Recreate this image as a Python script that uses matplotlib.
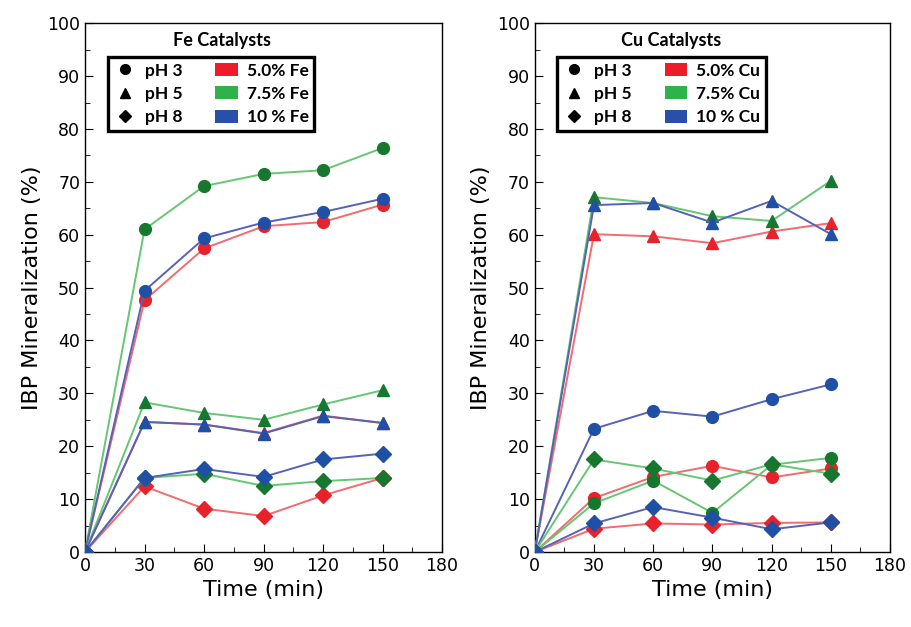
import matplotlib.pyplot as plt
from matplotlib.lines import Line2D
from matplotlib.patches import Patch
from matplotlib.ticker import MultipleLocator

# time points (min)
time = [0, 30, 60, 90, 120, 150]

# Fe catalysts
fe_ph3 = {
    "5.0": [0, 47.6, 57.4, 61.6, 62.4, 65.7],
    "7.5": [0, 61.0, 69.2, 71.5, 72.2, 76.4],
    "10": [0, 49.4, 59.3, 62.3, 64.3, 66.8],
}
fe_ph5 = {
    "5.0": [0, 24.6, 24.1, 22.5, 25.8, 24.4],
    "7.5": [0, 28.3, 26.3, 25.0, 27.9, 30.6],
    "10": [0, 24.6, 24.1, 22.4, 25.7, 24.4],
}
fe_ph8 = {
    "5.0": [0, 12.4, 8.2, 6.8, 10.7, 14.0],
    "7.5": [0, 14.0, 14.8, 12.5, 13.4, 14.0],
    "10": [0, 14.0, 15.7, 14.2, 17.5, 18.6],
}

# Cu catalysts
cu_ph3 = {
    "5.0": [0, 10.2, 14.2, 16.3, 14.1, 15.8],
    "7.5": [0, 9.2, 13.5, 7.4, 16.5, 17.8],
    "10": [0, 23.3, 26.7, 25.6, 28.9, 31.7],
}
cu_ph5 = {
    "5.0": [0, 60.1, 59.7, 58.4, 60.6, 62.2],
    "7.5": [0, 67.1, 66.0, 63.5, 62.6, 70.2],
    "10": [0, 65.6, 66.0, 62.3, 66.4, 60.1],
}
cu_ph8 = {
    "5.0": [0, 4.4, 5.4, 5.2, 5.5, 5.6],
    "7.5": [0, 17.5, 15.8, 13.5, 16.6, 14.8],
    "10": [0, 5.4, 8.5, 6.5, 4.3, 5.6],
}

loadings = ["5.0", "7.5", "10"]
marker_col = {"5.0": "#e8222b", "7.5": "#18772f", "10": "#2050a6"}
line_col = {"5.0": "#f26b6e", "7.5": "#66c673", "10": "#5562b6"}
patch_col = {"5.0": "#ec1c2a", "7.5": "#2db34a", "10": "#2a4fa8"}

fig = plt.figure(figsize=(9.11, 6.27), dpi=100)
ax1 = fig.add_axes([0.0933, 0.1196, 0.392, 0.8434])
ax2 = fig.add_axes([0.587, 0.1196, 0.390, 0.8434])


def draw(ax, ph3, ph5, ph8, metal):
    for data, mk, ms in [(ph3, "o", 8.5), (ph5, "^", 9), (ph8, "D", 8)]:
        for ld in loadings:
            ax.plot(time, data[ld], color=line_col[ld], lw=1.4,
                    marker=mk, ms=ms, mfc=marker_col[ld],
                    mec=marker_col[ld], zorder=3)
    ax.set_xlim(0, 180)
    ax.set_ylim(0, 100)
    ax.xaxis.set_major_locator(MultipleLocator(30))
    ax.xaxis.set_minor_locator(MultipleLocator(15))
    ax.yaxis.set_major_locator(MultipleLocator(10))
    ax.yaxis.set_minor_locator(MultipleLocator(5))
    ax.tick_params(which="both", direction="in", top=False, right=False,
                   labelsize=12.5)
    ax.tick_params(which="major", length=6)
    ax.tick_params(which="minor", length=3.5)
    for s in ax.spines.values():
        s.set_linewidth(1.0)
    ax.set_xlabel("Time (min)", fontsize=16, labelpad=4)
    ax.set_ylabel("IBP Mineralization (%)", fontsize=16, labelpad=4)

    handles = [
        Line2D([], [], ls="none", marker="o", ms=7, color="black"),
        Line2D([], [], ls="none", marker="^", ms=7, color="black"),
        Line2D([], [], ls="none", marker="D", ms=6, color="black"),
    ] + [Patch(facecolor=patch_col[ld], edgecolor="none") for ld in loadings]
    labels = ["pH 3", "pH 5", "pH 8",
              f"5.0% {metal}", f"7.5% {metal}", f"10 % {metal}"]
    leg = ax.legend(handles, labels, ncol=2, loc="upper left",
                    bbox_to_anchor=(0.064, 0.936), frameon=True,
                    fancybox=False, framealpha=1, edgecolor="black",
                    prop={"family": "Lato", "weight": "bold", "size": 12.5},
                    handlelength=1.3, handleheight=0.8, handletextpad=0.5,
                    columnspacing=1.9, labelspacing=0.42, borderpad=0.32,
                    borderaxespad=0)
    leg.get_frame().set_linewidth(2.4)
    ax.text(0.384, 0.968, f"{metal} Catalysts", transform=ax.transAxes,
            ha="center", va="center", fontsize=13, fontweight="bold",
            family="Lato")


draw(ax1, fe_ph3, fe_ph5, fe_ph8, "Fe")
draw(ax2, cu_ph3, cu_ph5, cu_ph8, "Cu")

fig.savefig("out.png", dpi=100)
